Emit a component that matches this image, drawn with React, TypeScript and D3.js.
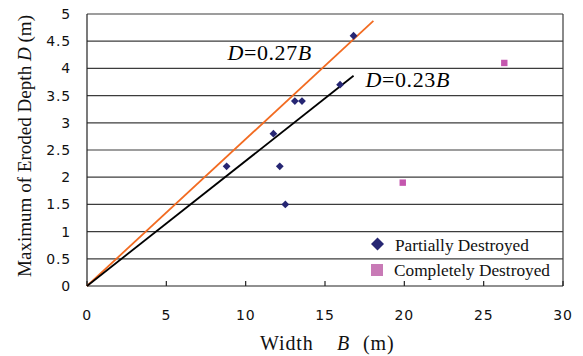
import React from "react";
import * as d3 from "d3";

const partialB = [8.8, 11.75, 12.15, 12.5, 13.1, 13.55, 15.95, 16.8];
const partialD = [2.2, 2.8, 2.2, 1.5, 3.4, 3.4, 3.7, 4.6];
const completeB = [26.3, 19.9];
const completeD = [4.1, 1.9];
const xTicks = [0, 5, 10, 15, 20, 25, 30];
const yTicks = [0, 0.5, 1, 1.5, 2, 2.5, 3, 3.5, 4, 4.5, 5];
const lineCoef = [0.27, 0.23];
const lineEndB = [18.05, 16.8];
const lineColors = ["#F26B21", "#000000"];
const legendLabels = ["Partially Destroyed", "Completely Destroyed"];

const W = 583;
const H = 356;
const m = { left: 87, right: 563, top: 14, bottom: 286 };

export default function App() {
  const x = d3.scaleLinear().domain([0, 30]).range([m.left, m.right]);
  const y = d3.scaleLinear().domain([0, 5]).range([m.bottom, m.top]);
  const line = d3.line<[number, number]>().x((d) => x(d[0])).y((d) => y(d[1]));
  const serif = { fontFamily: "Liberation Serif, 'Times New Roman', 'DejaVu Serif', serif" };
  const sans = { fontFamily: "'DejaVu Sans', Arial, sans-serif" };

  const diamondPath = (s: number) => `M0,${-s}L${s},0L0,${s}L${-s},0Z`;

  return (
    <svg width={W} height={H} style={{ position: "absolute", left: 0, top: 0, background: "#fff" }}>
      {yTicks.filter((t) => t > 0).map((t) => (
        <line key={t} x1={m.left} x2={m.right} y1={y(t)} y2={y(t)} stroke="#3c3c3c" strokeWidth={1.2} />
      ))}
      <line x1={m.right} x2={m.right} y1={m.top} y2={m.bottom} stroke="#3c3c3c" strokeWidth={1.2} />
      <line x1={m.left} x2={m.left} y1={m.top} y2={m.bottom} stroke="#222" strokeWidth={1.2} />
      <line x1={m.left} x2={m.right} y1={m.bottom} y2={m.bottom} stroke="#222" strokeWidth={1.2} />
      {xTicks.map((t) => (
        <line key={t} x1={x(t)} x2={x(t)} y1={m.bottom} y2={m.bottom - 5} stroke="#222" strokeWidth={1.2} />
      ))}
      {yTicks.map((t) => (
        <text key={t} x={71} y={y(t)} dy="0.36em" textAnchor="end" style={sans} fontSize={14} letterSpacing={0.8} fill="#111">
          {d3.format("~g")(t)}
        </text>
      ))}
      {xTicks.map((t) => (
        <text key={t} x={x(t)} y={320} textAnchor="middle" style={sans} fontSize={14} letterSpacing={0.8} fill="#111">
          {t}
        </text>
      ))}
      {lineCoef.map((c, i) => (
        <path key={i} d={line([[0, 0], [lineEndB[i], c * lineEndB[i]]]) ?? ""} fill="none" stroke={lineColors[i]} strokeWidth={1.8} />
      ))}
      {partialB.map((b, i) => (
        <path key={i} d={diamondPath(3.9)} transform={`translate(${x(b)},${y(partialD[i])})`} fill="#262673" />
      ))}
      {completeB.map((b, i) => (
        <rect key={i} x={x(b) - 3.2} y={y(completeD[i]) - 3.2} width={6.4} height={6.4} fill="#C456AE" />
      ))}
      <text x={x(8.85)} y={y(4.15)} style={serif} fontSize={22} letterSpacing={0.6} fill="#000">
        <tspan fontStyle="italic">D</tspan>=0.27<tspan fontStyle="italic">B</tspan>
      </text>
      <text x={x(17.55)} y={y(3.65)} style={serif} fontSize={22} letterSpacing={0.6} fill="#000">
        <tspan fontStyle="italic">D</tspan>=0.23<tspan fontStyle="italic">B</tspan>
      </text>
      <path d={diamondPath(6.5)} transform={`translate(377.5,244)`} fill="#262673" />
      <rect x={371} y={264} width={12} height={12} fill="#C87AB6" />
      <text x={395} y={250.5} style={serif} fontSize={17.3} fill="#111">{legendLabels[0]}</text>
      <text x={394} y={276} style={serif} fontSize={17.3} fill="#111">{legendLabels[1]}</text>
      <text x={260} y={350} style={serif} fontSize={20} letterSpacing={0.9} fill="#111">Width</text>
      <text x={337} y={350} style={serif} fontSize={20} fontStyle="italic" fill="#111">B</text>
      <text x={363} y={350} style={serif} fontSize={20} letterSpacing={0.9} fill="#111">(m)</text>
      <text transform={`translate(31,146) rotate(-90)`} textAnchor="middle" style={serif} fontSize={18} fill="#111" textLength={262} lengthAdjust="spacingAndGlyphs">
        Maximum of Eroded Depth <tspan fontStyle="italic">D</tspan> (m)
      </text>
    </svg>
  );
}
